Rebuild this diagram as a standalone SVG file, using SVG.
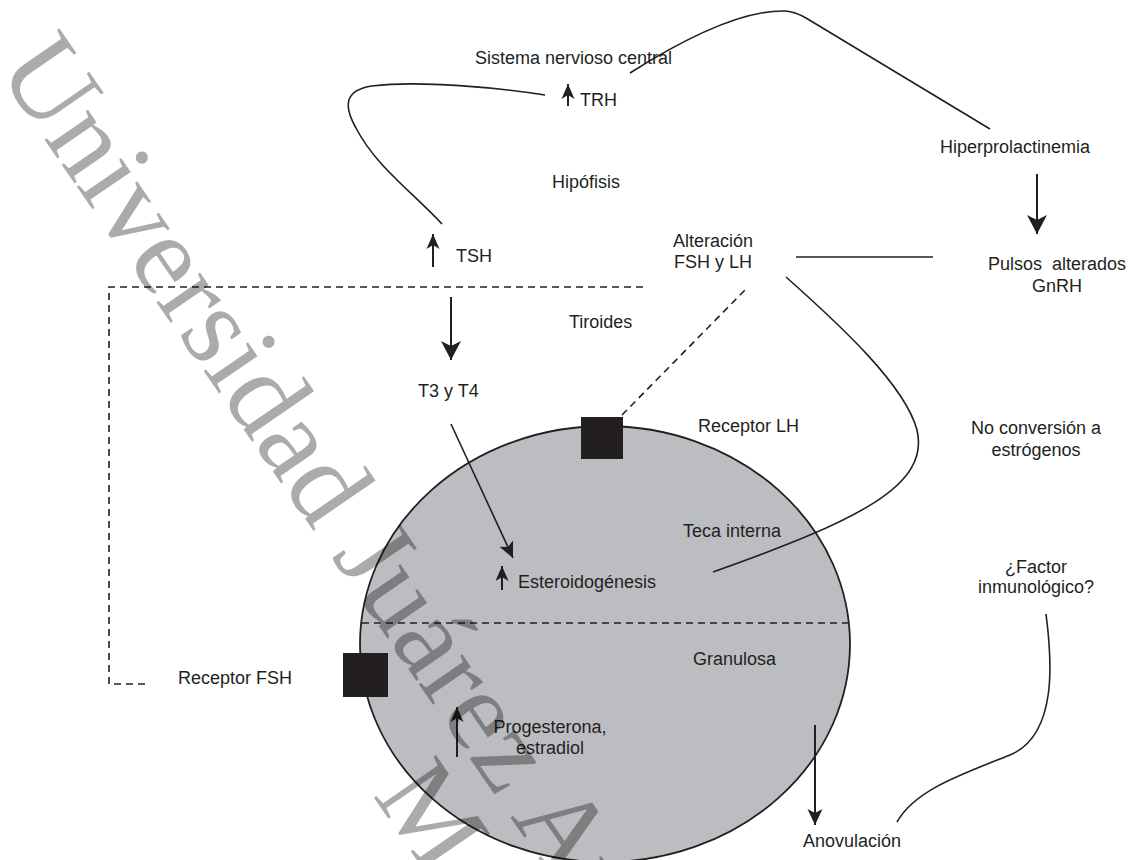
<svg xmlns="http://www.w3.org/2000/svg" width="1131" height="860" viewBox="0 0 1131 860">
<style>
text{font-family:"Liberation Sans",Arial,Helvetica,sans-serif;font-size:18px;fill:#231f20}
.m{text-anchor:middle}
.ln{fill:none;stroke:#231f20;stroke-width:1.6}
.sh{fill:none;stroke:#231f20;stroke-width:2}
.dash{fill:none;stroke:#231f20;stroke-width:1.6;stroke-dasharray:7 5}
.wm{font-family:"Liberation Serif","Times New Roman",serif;font-size:115px;fill:#000;fill-opacity:0.33}
</style>
<defs>
<marker id="aB" markerUnits="userSpaceOnUse" markerWidth="20" markerHeight="20" viewBox="0 0 19 20" refX="19" refY="10" orient="auto"><path d="M0,0 L19,10 L0,20 L5,10 Z" fill="#231f20"/></marker>
<marker id="aM" markerUnits="userSpaceOnUse" markerWidth="16" markerHeight="16" viewBox="0 0 16 15" refX="16" refY="7.5" orient="auto"><path d="M0,0 L16,7.5 L0,15 L4,7.5 Z" fill="#231f20"/></marker>
<marker id="aS" markerUnits="userSpaceOnUse" markerWidth="15" markerHeight="14" viewBox="0 0 15 13" refX="15" refY="6.5" orient="auto"><path d="M0,0 L15,6.5 L0,13 L4,6.5 Z" fill="#231f20"/></marker>
</defs>
<rect width="1131" height="860" fill="#fff"/>

<g id="follicle">
<ellipse cx="605" cy="644" rx="245" ry="218" fill="#bcbdc0" stroke="#231f20" stroke-width="1.8"/>
<line class="dash" x1="362" y1="623" x2="850" y2="623"/>
</g>
<g id="receptor-lh-box"><rect x="581" y="417" width="42" height="42" fill="#231f20"/></g>
<g id="receptor-fsh-box"><rect x="343" y="653" width="45" height="44" fill="#231f20"/></g>

<g id="connectors">
<path class="ln" d="M545,95 C500,88 420,80 372,86 C345,90 343,105 356,128 C375,165 410,190 442,224"/>
<path class="ln" d="M630,73 C690,35 745,10 785,11 Q796,12 806,18 L990,129"/>
<line class="sh" x1="1037" y1="174" x2="1037" y2="234" marker-end="url(#aB)"/>
<line class="ln" x1="796" y1="257" x2="933" y2="257"/>
<path class="ln" d="M786,277 C840,325 905,385 917,430 C930,485 860,520 713,572"/>
<line class="dash" x1="622" y1="415" x2="745" y2="290"/>
<path class="dash" d="M145,684 H109 V287 H645"/>
<line class="sh" x1="451" y1="297" x2="451" y2="360" marker-end="url(#aB)"/>
<line class="ln" x1="451" y1="424" x2="513" y2="558" marker-end="url(#aM)"/>
<line class="sh" x1="815" y1="725" x2="815" y2="825" marker-end="url(#aM)"/>
<path class="ln" d="M1046,614 C1052,660 1058,735 1010,755 C960,775 915,790 897,822"/>
<line class="sh" x1="568" y1="106" x2="568" y2="84" marker-end="url(#aS)"/>
<line class="sh" x1="433" y1="267" x2="433" y2="234" marker-end="url(#aS)"/>
<line class="sh" x1="502" y1="590" x2="502" y2="566" marker-end="url(#aS)"/>
<line class="sh" x1="457" y1="757" x2="457" y2="707" marker-end="url(#aS)"/>
</g>

<g id="snc"><text x="475" y="64">Sistema nervioso central</text></g>
<g id="trh"><text x="580" y="106">TRH</text></g>
<g id="hipofisis"><text x="552" y="188">Hipófisis</text></g>
<g id="tsh"><text x="456" y="262">TSH</text></g>
<g id="hiperprolactinemia"><text x="940" y="153">Hiperprolactinemia</text></g>
<g id="alteracion"><text class="m" x="713" y="247">Alteración</text><text class="m" x="713" y="268">FSH y LH</text></g>
<g id="pulsos"><text class="m" x="1057" y="270">Pulsos&#160; alterados</text><text class="m" x="1057" y="292">GnRH</text></g>
<g id="tiroides"><text x="569" y="328">Tiroides</text></g>
<g id="t3t4"><text x="418" y="397">T3 y T4</text></g>
<g id="receptor-lh"><text x="698" y="432">Receptor LH</text></g>
<g id="no-conversion"><text class="m" x="1036" y="434">No conversión a</text><text class="m" x="1036" y="456">estrógenos</text></g>
<g id="teca"><text x="683" y="537">Teca interna</text></g>
<g id="esteroidogenesis"><text x="518" y="588">Esteroidogénesis</text></g>
<g id="factor"><text class="m" x="1036" y="573">¿Factor</text><text class="m" x="1036" y="593">inmunológico?</text></g>
<g id="granulosa"><text x="693" y="665">Granulosa</text></g>
<g id="receptor-fsh"><text x="178" y="684">Receptor FSH</text></g>
<g id="progesterona"><text class="m" x="550" y="733">Progesterona,</text><text class="m" x="550" y="754">estradiol</text></g>
<g id="anovulacion"><text x="803" y="847">Anovulación</text></g>

<g id="watermark">
<text class="wm" transform="translate(-4,69) rotate(55.5)">Universidad Juárez Autónoma</text>
<text class="wm" transform="translate(372,795) rotate(55.5)">México</text>
</g>
</svg>
